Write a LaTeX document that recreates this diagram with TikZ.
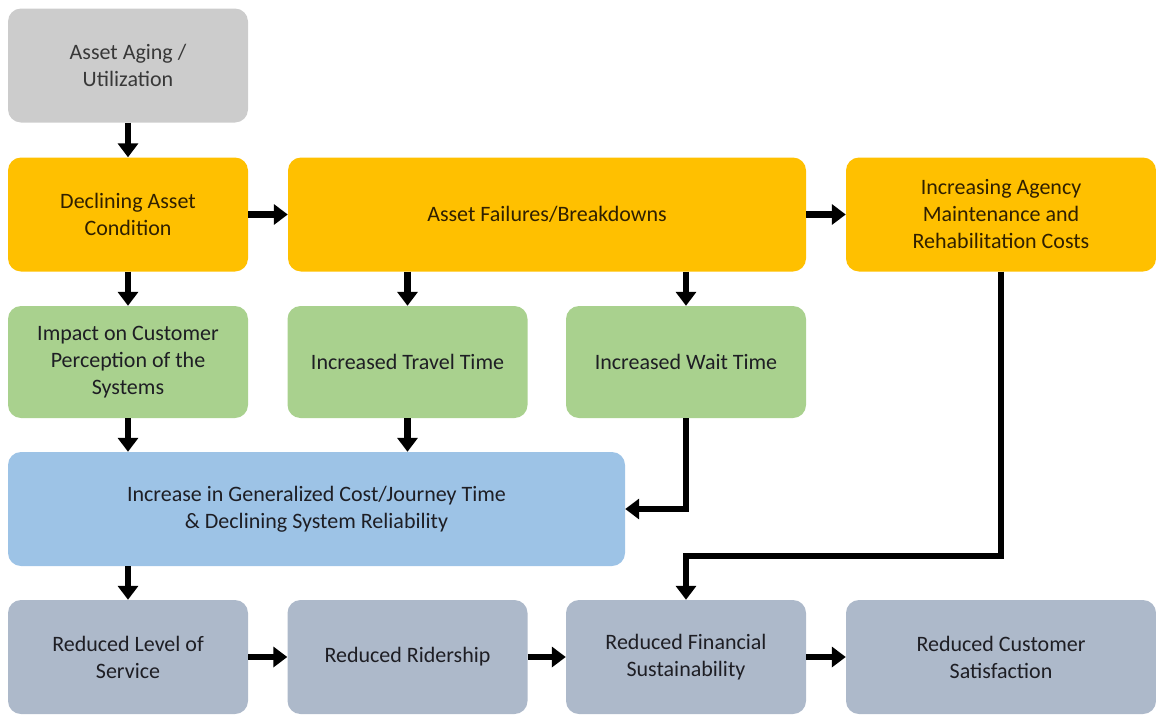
\documentclass[tikz,border=0pt]{standalone}
\usepackage{fontspec}
\setmainfont{Carlito}
\usetikzlibrary{arrows.meta}

\definecolor{agegray}{RGB}{204,204,204}
\definecolor{condyellow}{RGB}{255,192,0}
\definecolor{effgreen}{RGB}{169,209,142}
\definecolor{costblue}{RGB}{157,195,230}
\definecolor{resslate}{RGB}{173,185,202}
\definecolor{darktext}{RGB}{30,30,36}
\definecolor{browntext}{RGB}{48,32,0}

\tikzset{
    box/.style={rounded corners=13pt, align=center, inner sep=4pt,
        font=\fontsize{22}{27}\selectfont, text=darktext,
        minimum width=240pt, minimum height=114pt},
    agebox/.style={box, fill=agegray, text=black!78},
    condbox/.style={box, fill=condyellow, text=browntext},
    effbox/.style={box, fill=effgreen},
    costbox/.style={box, fill=costblue},
    resbox/.style={box, fill=resslate},
    arrow/.style={line width=6.5pt, -{Triangle[width=20pt,length=14pt]}}
}

\begin{document}
\begin{tikzpicture}[x=1pt, y=-1pt]

        \useasboundingbox (0,0) rectangle (1156,715);

        % causes
        \node[agebox] (aging) at (128,65.5) {Asset Aging /\\Utilization};
        \node[condbox] (declining) at (128,214.5) {Declining Asset\\Condition};
        \node[condbox, minimum width=518pt] (failures) at (547,214.5) {Asset Failures/Breakdowns};
        \node[condbox, minimum width=310pt] (maintenance) at (1001,214.5) {Increasing Agency\\Maintenance and\\Rehabilitation Costs};

        % effects on the traveller
        \node[effbox, minimum height=112pt] (perception) at (128,362) {Impact on Customer\\Perception of the\\Systems};
        \node[effbox, minimum height=112pt] (travel) at (407.5,362) {Increased Travel Time};
        \node[effbox, minimum height=112pt] (wait) at (686,362) {Increased Wait Time};

        \node[costbox, minimum width=617pt] (journey) at (316.5,509) {Increase in Generalized Cost/Journey Time\\\& Declining System Reliability};

        % results
        \node[resbox] (service) at (128,657) {Reduced Level of\\Service};
        \node[resbox] (ridership) at (407.5,657) {Reduced Ridership};
        \node[resbox] (financial) at (686,657) {Reduced Financial\\Sustainability};
        \node[resbox, minimum width=310pt] (satisfaction) at (1001,657) {Reduced Customer\\Satisfaction};

        % arrows
        \draw[arrow] (aging) -- (declining);
        \draw[arrow] (declining) -- (failures);
        \draw[arrow] (failures) -- (maintenance);
        \draw[arrow] (declining) -- (perception);
        \draw[arrow] (failures.south -| travel) -- (travel);
        \draw[arrow] (failures.south -| wait) -- (wait);
        \draw[arrow] (perception) -- (journey.north -| perception);
        \draw[arrow] (travel) -- (journey.north -| travel);
        \draw[arrow] (wait.south) |- (journey.east);
        \draw[arrow] (journey.south -| service) -- (service);

        \coordinate (join) at (686,556);
        \draw[arrow] (maintenance.south) |- (join) -- (financial.north);

        \draw[arrow] (service) -- (ridership);
        \draw[arrow] (ridership) -- (financial);
        \draw[arrow] (financial) -- (satisfaction);
\end{tikzpicture}
\end{document}
